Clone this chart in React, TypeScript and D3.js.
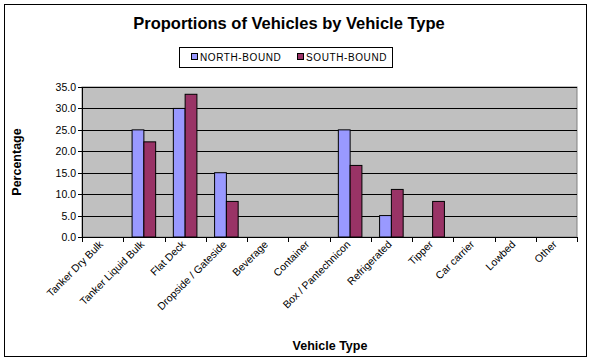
import React from "react";
import * as d3 from "d3";

const categories = [
  "Tanker Dry Bulk",
  "Tanker Liquid Bulk",
  "Flat Deck",
  "Dropside / Gateside",
  "Beverage",
  "Container",
  "Box / Pantechnicon",
  "Refrigerated",
  "Tipper",
  "Car carrier",
  "Lowbed",
  "Other",
];
const northBound = [0, 25.0, 30.0, 15.0, 0, 0, 25.0, 5.0, 0, 0, 0, 0];
const southBound = [0, 22.2, 33.3, 8.3, 0, 0, 16.7, 11.1, 8.3, 0, 0, 0];
const seriesNames = ["NORTH-BOUND", "SOUTH-BOUND"];
const seriesColors = ["#9999FF", "#993366"];
const yTicks = [0, 5, 10, 15, 20, 25, 30, 35];

const W = 591;
const H = 361;
const plot = { left: 82, right: 577, top: 87, bottom: 237 };
const FONT = "Arial, 'Liberation Sans', sans-serif";

export default function App() {
  const x = d3
    .scaleBand<string>()
    .domain(categories)
    .range([plot.left, plot.right])
    .paddingInner(0)
    .paddingOuter(0);
  const y = d3.scaleLinear().domain([0, 35]).range([plot.bottom, plot.top]);
  const bw = x.bandwidth() / 3.5;
  const series = [northBound, southBound];

  return (
    <svg
      width={W}
      height={H}
      style={{ position: "absolute", left: 0, top: 0, background: "#fff" }}
      fontFamily={FONT}
    >
      <rect x={0} y={0} width={W} height={H} fill="#fff" />
      <rect x={4.5} y={4.5} width={582} height={352} fill="none" stroke="#000" strokeWidth={1} />
      <text x={289} y={29} textAnchor="middle" fontSize={16.5} fontWeight="bold">
        Proportions of Vehicles by Vehicle Type
      </text>
      {/* legend */}
      <rect x={179.5} y={47.5} width={213} height={20} fill="#fff" stroke="#000" />
      {seriesNames.map((n, i) => {
        const lx = i === 0 ? 192 : 298;
        return (
          <g key={n}>
            <rect x={lx - 0.5} y={53.5} width={6} height={6} fill={seriesColors[i]} stroke="#000" />
            <text x={lx + 8} y={61} fontSize={10} letterSpacing={0.6}>
              {n}
            </text>
          </g>
        );
      })}
      {/* plot area */}
      <rect
        x={plot.left}
        y={plot.top}
        width={plot.right - plot.left}
        height={plot.bottom - plot.top}
        fill="#C0C0C0"
        stroke="#808080"
      />
      {yTicks.map((t) => (
        <g key={t}>
          {t > 0 && (
            <line x1={plot.left} x2={plot.right} y1={Math.round(y(t)) + 0.5} y2={Math.round(y(t)) + 0.5} stroke="#000" />
          )}
          <line x1={plot.left - 4} x2={plot.left} y1={Math.round(y(t)) + 0.5} y2={Math.round(y(t)) + 0.5} stroke="#000" />
          <text x={plot.left - 6} y={y(t) + 4} textAnchor="end" fontSize={10.5}>
            {t.toFixed(1)}
          </text>
        </g>
      ))}
      {categories.map((c, i) =>
        series.map((s, si) =>
          s[i] > 0 ? (
            <rect
              key={c + si}
              x={(x(c) as number) + 0.75 * bw + si * bw}
              y={y(s[i])}
              width={bw}
              height={plot.bottom - y(s[i])}
              fill={seriesColors[si]}
              stroke="#000"
              strokeWidth={1}
            />
          ) : null
        )
      )}
      {/* axes */}
      <line x1={plot.left + 0.5} x2={plot.left + 0.5} y1={plot.top} y2={plot.bottom} stroke="#000" />
      <line x1={plot.left} x2={plot.right} y1={plot.bottom + 0.5} y2={plot.bottom + 0.5} stroke="#000" />
      {categories.map((c) => (
        <line
          key={"t" + c}
          x1={Math.round(x(c) as number) + 0.5}
          x2={Math.round(x(c) as number) + 0.5}
          y1={plot.bottom}
          y2={plot.bottom + 5}
          stroke="#000"
        />
      ))}
      <line x1={plot.right + 0.5} x2={plot.right + 0.5} y1={plot.bottom} y2={plot.bottom + 5} stroke="#000" />
      {categories.map((c) => {
        const cx = (x(c) as number) + x.bandwidth() / 2 + 1;
        const cy = plot.bottom + 8;
        return (
          <text
            key={"l" + c}
            transform={`translate(${cx},${cy}) rotate(-45)`}
            textAnchor="end"
            fontSize={10.5}
          >
            {c}
          </text>
        );
      })}
      <text
        transform={`translate(21,${(plot.top + plot.bottom) / 2}) rotate(-90)`}
        textAnchor="middle"
        fontSize={12.5}
        fontWeight="bold"
      >
        Percentage
      </text>
      <text x={330} y={350} textAnchor="middle" fontSize={12.5} fontWeight="bold">
        Vehicle Type
      </text>
    </svg>
  );
}
